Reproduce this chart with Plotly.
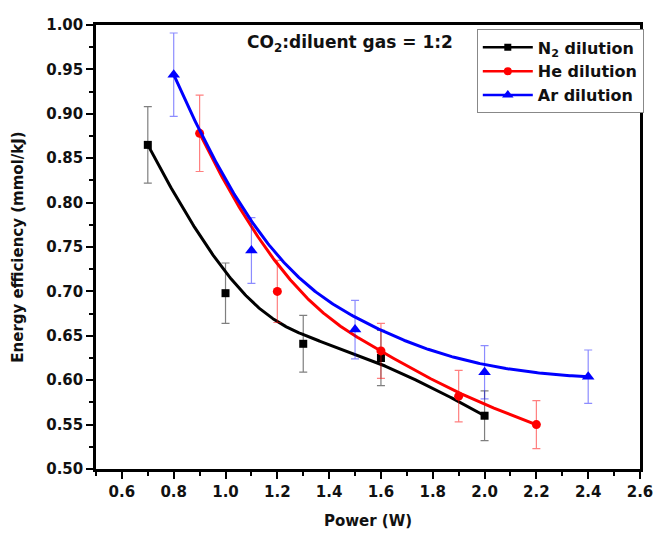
import numpy as np
import plotly.graph_objects as go

# Energy efficiency vs. discharge power for three diluent gases (CO2:diluent = 1:2)
n2_power = [0.7, 1.0, 1.3, 1.6, 2.0]
n2_eff = [0.865, 0.698, 0.641, 0.625, 0.560]
n2_err = [0.043, 0.034, 0.032, 0.031, 0.028]

he_power = [0.9, 1.2, 1.6, 1.9, 2.2]
he_eff = [0.878, 0.700, 0.633, 0.582, 0.550]
he_err = [0.043, 0.035, 0.031, 0.029, 0.027]

ar_power = [0.8, 1.1, 1.5, 2.0, 2.4]
ar_eff = [0.944, 0.746, 0.657, 0.609, 0.604]
ar_err = [0.047, 0.037, 0.033, 0.030, 0.030]

x_ticks = [0.6, 0.8, 1.0, 1.2, 1.4, 1.6, 1.8, 2.0, 2.2, 2.4, 2.6]
y_ticks = [0.50, 0.55, 0.60, 0.65, 0.70, 0.75, 0.80, 0.85, 0.90, 0.95, 1.00]

FONT = "DejaVu Sans, Arial, sans-serif"


def bspline(xs, ys, degree=3, samples=300):
    """Clamped B-spline using the data points as control points."""
    pts = np.column_stack([xs, ys]).astype(float)
    n = len(pts)
    k = min(degree, n - 1)
    inner = list(np.linspace(0, 1, n - k + 1)[1:-1])
    knots = np.array([0.0] * (k + 1) + inner + [1.0] * (k + 1))
    t = np.linspace(0, 1, samples)
    t[-1] = 1 - 1e-12

    def basis(i, p, tt):
        if p == 0:
            return np.where((knots[i] <= tt) & (tt < knots[i + 1]), 1.0, 0.0)
        left = 0.0
        right = 0.0
        d1 = knots[i + p] - knots[i]
        d2 = knots[i + p + 1] - knots[i + 1]
        if d1 > 0:
            left = (tt - knots[i]) / d1 * basis(i, p - 1, tt)
        if d2 > 0:
            right = (knots[i + p + 1] - tt) / d2 * basis(i + 1, p - 1, tt)
        return left + right

    B = np.array([basis(i, k, t) for i in range(n)])
    curve = B.T @ pts
    return curve[:, 0], curve[:, 1]


series = [
    ("N<sub>2</sub> dilution", n2_power, n2_eff, n2_err, "#000000", "rgba(0,0,0,0.5)", "square", 8),
    ("He dilution", he_power, he_eff, he_err, "#ff0000", "rgba(255,0,0,0.5)", "circle", 9),
    ("Ar dilution", ar_power, ar_eff, ar_err, "#0000ff", "rgba(0,0,255,0.45)", "triangle-up", 11),
]

fig = go.Figure()

for name, xs, ys, err, color, ecolor, symbol, msize in series:
    cx, cy = bspline(xs, ys)
    fig.add_trace(go.Scatter(
        x=cx, y=cy, mode="lines", line=dict(color=color, width=3),
        showlegend=False, hoverinfo="skip",
    ))
    fig.add_trace(go.Scatter(
        x=xs, y=ys, mode="markers",
        marker=dict(color=color, symbol=symbol, size=msize),
        error_y=dict(type="data", array=err, visible=True, color=ecolor, thickness=1.2, width=4),
        showlegend=False,
    ))
    # legend entry: line with marker
    fig.add_trace(go.Scatter(
        x=[None], y=[None], mode="lines+markers", name=name,
        line=dict(color=color, width=2.5),
        marker=dict(color=color, symbol=symbol, size=msize - 1),
    ))

fig.add_annotation(
    x=0.274, y=0.958, xref="paper", yref="paper", xanchor="left", yanchor="middle",
    text="CO<sub>2</sub>:diluent gas = 1:2", showarrow=False,
    font=dict(family=FONT, size=17, color="#111", weight="bold"),
)

axis_common = dict(
    showline=True, linecolor="black", linewidth=2.5, mirror=True,
    ticks="outside", tickcolor="black", tickwidth=2, ticklen=7,
    showgrid=False, zeroline=False,
    tickfont=dict(family=FONT, size=15, color="#111", weight="bold"),
)

fig.update_layout(
    width=665, height=539,
    margin=dict(l=96, r=15, t=25, b=70),
    paper_bgcolor="white", plot_bgcolor="white",
    font=dict(family=FONT, color="#111"),
    xaxis=dict(
        range=[0.5, 2.6], tickvals=x_ticks, ticktext=[f"{v:.1f}" for v in x_ticks],
        minor=dict(tickvals=[0.5 + 0.2 * i for i in range(11)], ticks="outside", ticklen=4, tickwidth=2, tickcolor="black"),
        title=dict(text="Power (W)", standoff=16,
                   font=dict(family=FONT, size=15, color="#111", weight="bold")),
        **axis_common,
    ),
    yaxis=dict(
        range=[0.5, 1.0], tickvals=y_ticks, ticktext=[f"{v:.2f}" for v in y_ticks],
        minor=dict(tickvals=[0.525 + 0.05 * i for i in range(10)], ticks="outside", ticklen=4, tickwidth=2, tickcolor="black"),
        title=dict(text="Energy efficiency (mmol/kJ)", standoff=19,
                   font=dict(family=FONT, size=15, color="#111", weight="bold")),
        **axis_common,
    ),
    legend=dict(
        x=0.70, y=0.99, xanchor="left", yanchor="top",
        bordercolor="#888", borderwidth=1, bgcolor="white",
        font=dict(family=FONT, size=16, color="#111", weight="bold"),
        itemwidth=50, tracegroupgap=0,
    ),
)

fig.write_html("out.html")
